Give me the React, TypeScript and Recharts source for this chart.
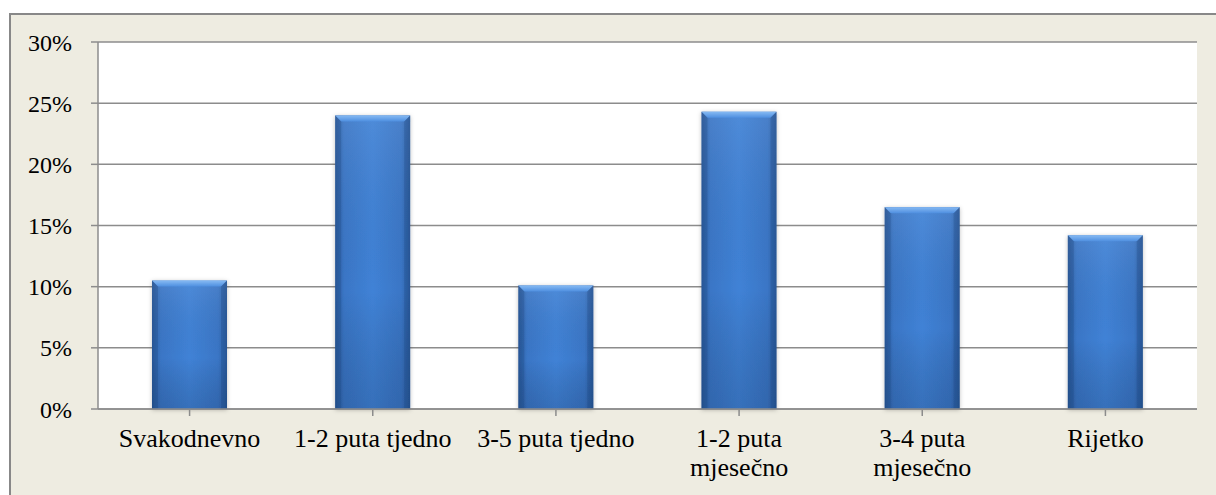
import React from 'react';
import { BarChart, Bar, XAxis, YAxis, CartesianGrid } from 'recharts';

// Učestalost (share of respondents per category)
const categories = [
  'Svakodnevno',
  '1-2 puta tjedno',
  '3-5 puta tjedno',
  '1-2 puta\nmjesečno',
  '3-4 puta\nmjesečno',
  'Rijetko',
];
const shares = [10.5, 24.0, 10.1, 24.3, 16.5, 14.2];
const yTicks = [0, 5, 10, 15, 20, 25, 30];

const data = categories.map((name, i) => ({ name, value: shares[i] }));

const FONT = '"Liberation Serif", "Times New Roman", serif';

const BevelBar = (props: any) => {
  const { x, y, width, height } = props;
  if (!height || height <= 0 || !width || width <= 0) return null;
  const b = 6;
  return (
    <g filter="url(#barShadow)">
      <rect x={x} y={y} width={width} height={height} fill="url(#barH)" />
      <rect x={x} y={y} width={width} height={height} fill="url(#barV)" />
      <polygon
        points={`${x},${y} ${x + width},${y} ${x + width - b},${y + b} ${x + b},${y + b}`}
        fill="url(#barTop)"
      />
      <polygon
        points={`${x},${y} ${x + b},${y + b} ${x + b},${y + height} ${x},${y + height}`}
        fill="#1f4a85"
        opacity={0.3}
      />
      <polygon
        points={`${x + width},${y} ${x + width - b},${y + b} ${x + width - b},${y + height} ${x + width},${y + height}`}
        fill="#1f4a85"
        opacity={0.3}
      />
    </g>
  );
};

const CategoryTick = (props: any) => {
  const { x, y, payload } = props;
  const lines = String(payload.value).split('\n');
  return (
    <text x={x} y={y} textAnchor="middle" fill="#000" style={{ fontFamily: FONT, fontSize: 26 }}>
      {lines.map((line, i) => (
        <tspan key={i} x={x} dy={29}>
          {line}
        </tspan>
      ))}
    </text>
  );
};

export default function App() {
  return (
    <div style={{ position: 'absolute', left: 0, top: 0, width: 1216, height: 495, overflow: 'hidden', background: '#fff' }}>
      <div
        style={{
          position: 'absolute',
          left: 9,
          top: 13,
          width: 1260,
          height: 540,
          background: '#EEECE1',
          border: '2px solid #888',
        }}
      />
      <div style={{ position: 'absolute', left: 0, top: 0 }}>
        <BarChart
          width={1216}
          height={495}
          data={data}
          margin={{ top: 42, right: 19, bottom: 16, left: 10 }}
          barSize={75}
        >
          <defs>
            <linearGradient id="barH" x1="0" y1="0" x2="1" y2="0">
              <stop offset="0%" stopColor="#2c5c9e" />
              <stop offset="12%" stopColor="#3a76c6" />
              <stop offset="50%" stopColor="#4082d6" />
              <stop offset="88%" stopColor="#3a76c6" />
              <stop offset="100%" stopColor="#2c5c9e" />
            </linearGradient>
            <linearGradient id="barV" x1="0" y1="0" x2="0" y2="1">
              <stop offset="0%" stopColor="#ffffff" stopOpacity={0.08} />
              <stop offset="60%" stopColor="#000000" stopOpacity={0} />
              <stop offset="100%" stopColor="#0a1f40" stopOpacity={0.18} />
            </linearGradient>
            <linearGradient id="barTop" x1="0" y1="0" x2="0" y2="1">
              <stop offset="0%" stopColor="#86baf3" />
              <stop offset="100%" stopColor="#4f8fe0" />
            </linearGradient>
            <filter id="barShadow" x="-10%" y="-5%" width="120%" height="110%">
              <feDropShadow dx="0" dy="1" stdDeviation="2" floodColor="#000" floodOpacity={0.25} />
            </filter>
          </defs>
          <CartesianGrid vertical={false} fill="#ffffff" stroke="#8c8c8c" strokeWidth={1.5} />
          <XAxis
            dataKey="name"
            height={70}
            interval={0}
            axisLine={{ stroke: '#8c8c8c', strokeWidth: 1.5 }}
            tickLine={{ stroke: '#8c8c8c', strokeWidth: 1.5 }}
            tickSize={7}
            tick={<CategoryTick />}
          />
          <YAxis
            width={88}
            domain={[0, 30]}
            ticks={yTicks}
            interval={0}
            tickFormatter={(v: number) => `${v}%`}
            axisLine={{ stroke: '#8c8c8c', strokeWidth: 1.5 }}
            tickLine={{ stroke: '#8c8c8c', strokeWidth: 1.5 }}
            tickSize={7}
            tickMargin={19}
            tick={{ fill: '#000', fontFamily: FONT, fontSize: 24 }}
          />
          <Bar dataKey="value" shape={<BevelBar />} isAnimationActive={false} />
        </BarChart>
      </div>
    </div>
  );
}
